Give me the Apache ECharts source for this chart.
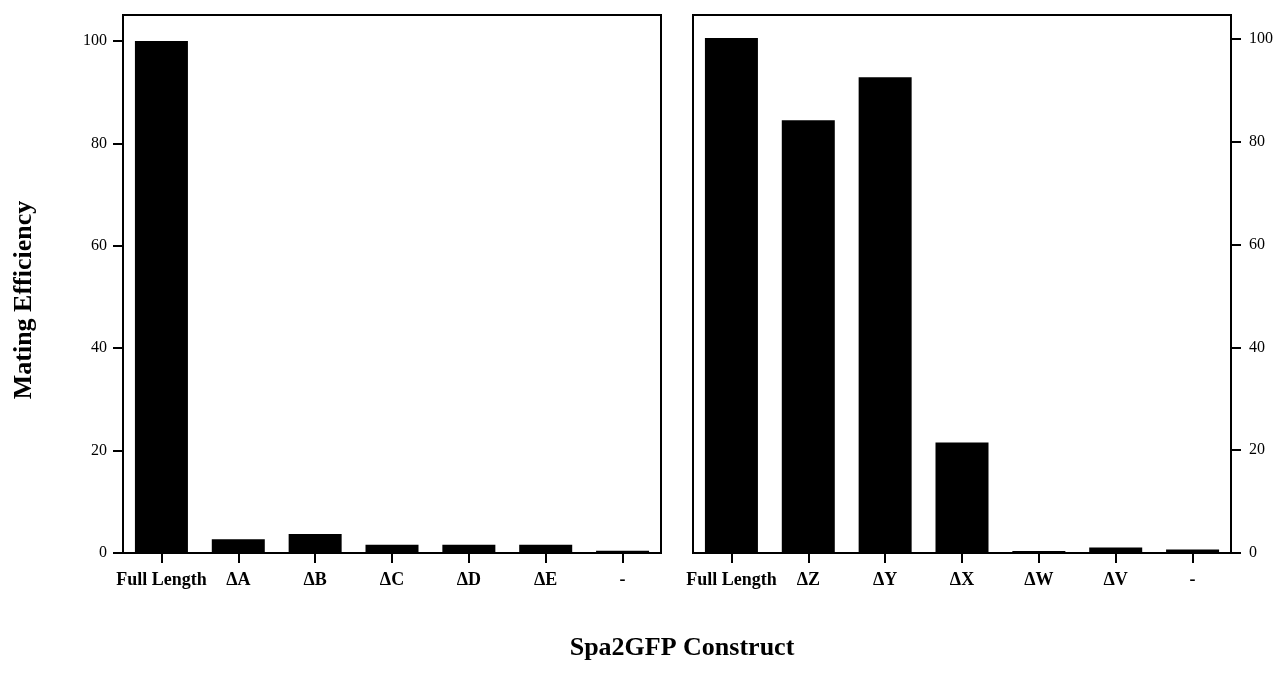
<!DOCTYPE html>
<html>
<head>
<meta charset="utf-8">
<script src="https://cdn.jsdelivr.net/npm/echarts@6/dist/echarts.min.js"></script>
<style>
html,body{margin:0;padding:0;background:#fff;}
#c{width:1277px;height:686px;}
</style>
</head>
<body>
<div id="c"></div>
<script>
const leftCategories = ['Full Length', '\u0394A', '\u0394B', '\u0394C', '\u0394D', '\u0394E', '-'];
const leftValues = [100, 2.7, 3.7, 1.6, 1.6, 1.6, 0.45];
const rightCategories = ['Full Length', '\u0394Z', '\u0394Y', '\u0394X', '\u0394W', '\u0394V', '-'];
const rightValues = [100.2, 84.2, 92.6, 21.5, 0.4, 1.05, 0.7];
const yTicks = [0, 20, 40, 60, 80, 100];
const xTitle = 'Spa2GFP Construct';
const yTitle = 'Mating Efficiency';

const serif = '"Liberation Serif", "Times New Roman", serif';

function xAxis(gi, cats) {
  return {
    type: 'category', gridIndex: gi, data: cats,
    axisLine: {show: true, lineStyle: {color: '#000', width: 2}},
    axisTick: {show: true, alignWithLabel: true, length: 10, lineStyle: {color: '#000', width: 2}},
    axisLabel: {color: '#000', fontFamily: serif, fontWeight: 'bold', fontSize: 18, margin: 18, interval: 0},
    splitLine: {show: false}
  };
}
function yAxis(gi, pos, max, margin) {
  return {
    type: 'value', gridIndex: gi, position: pos, min: 0, max: max, interval: 20,
    axisLine: {show: true, lineStyle: {color: '#000', width: 2}},
    axisTick: {show: true, length: 10, lineStyle: {color: '#000', width: 2}, customValues: yTicks},
    axisLabel: {color: '#000', fontFamily: serif, fontSize: 16, margin: margin, customValues: yTicks},
    splitLine: {show: false}
  };
}

const chart = echarts.init(document.getElementById('c'));
chart.setOption({
  animation: false,
  backgroundColor: '#fff',
  grid: [
    {left: 123, top: 15, width: 538, height: 538, show: true, borderColor: '#000', borderWidth: 2, backgroundColor: 'transparent'},
    {left: 693, top: 15, width: 538, height: 538, show: true, borderColor: '#000', borderWidth: 2, backgroundColor: 'transparent'}
  ],
  xAxis: [xAxis(0, leftCategories), xAxis(1, rightCategories)],
  yAxis: [yAxis(0, 'left', 105.1, 16), yAxis(1, 'right', 104.7, 18)],
  series: [
    {type: 'bar', xAxisIndex: 0, yAxisIndex: 0, data: leftValues, barWidth: 53, itemStyle: {color: '#000'}},
    {type: 'bar', xAxisIndex: 1, yAxisIndex: 1, data: rightValues, barWidth: 53, itemStyle: {color: '#000'}}
  ],
  graphic: [
    {type: 'text', x: 682, y: 648, style: {text: xTitle, fontFamily: serif, fontWeight: 'bold', fontSize: 26, fill: '#000', align: 'center', verticalAlign: 'middle'}},
    {type: 'text', x: 24, y: 300, rotation: Math.PI / 2, style: {text: yTitle, fontFamily: serif, fontWeight: 'bold', fontSize: 26, fill: '#000', align: 'center', verticalAlign: 'middle'}}
  ]
});
</script>
</body>
</html>
